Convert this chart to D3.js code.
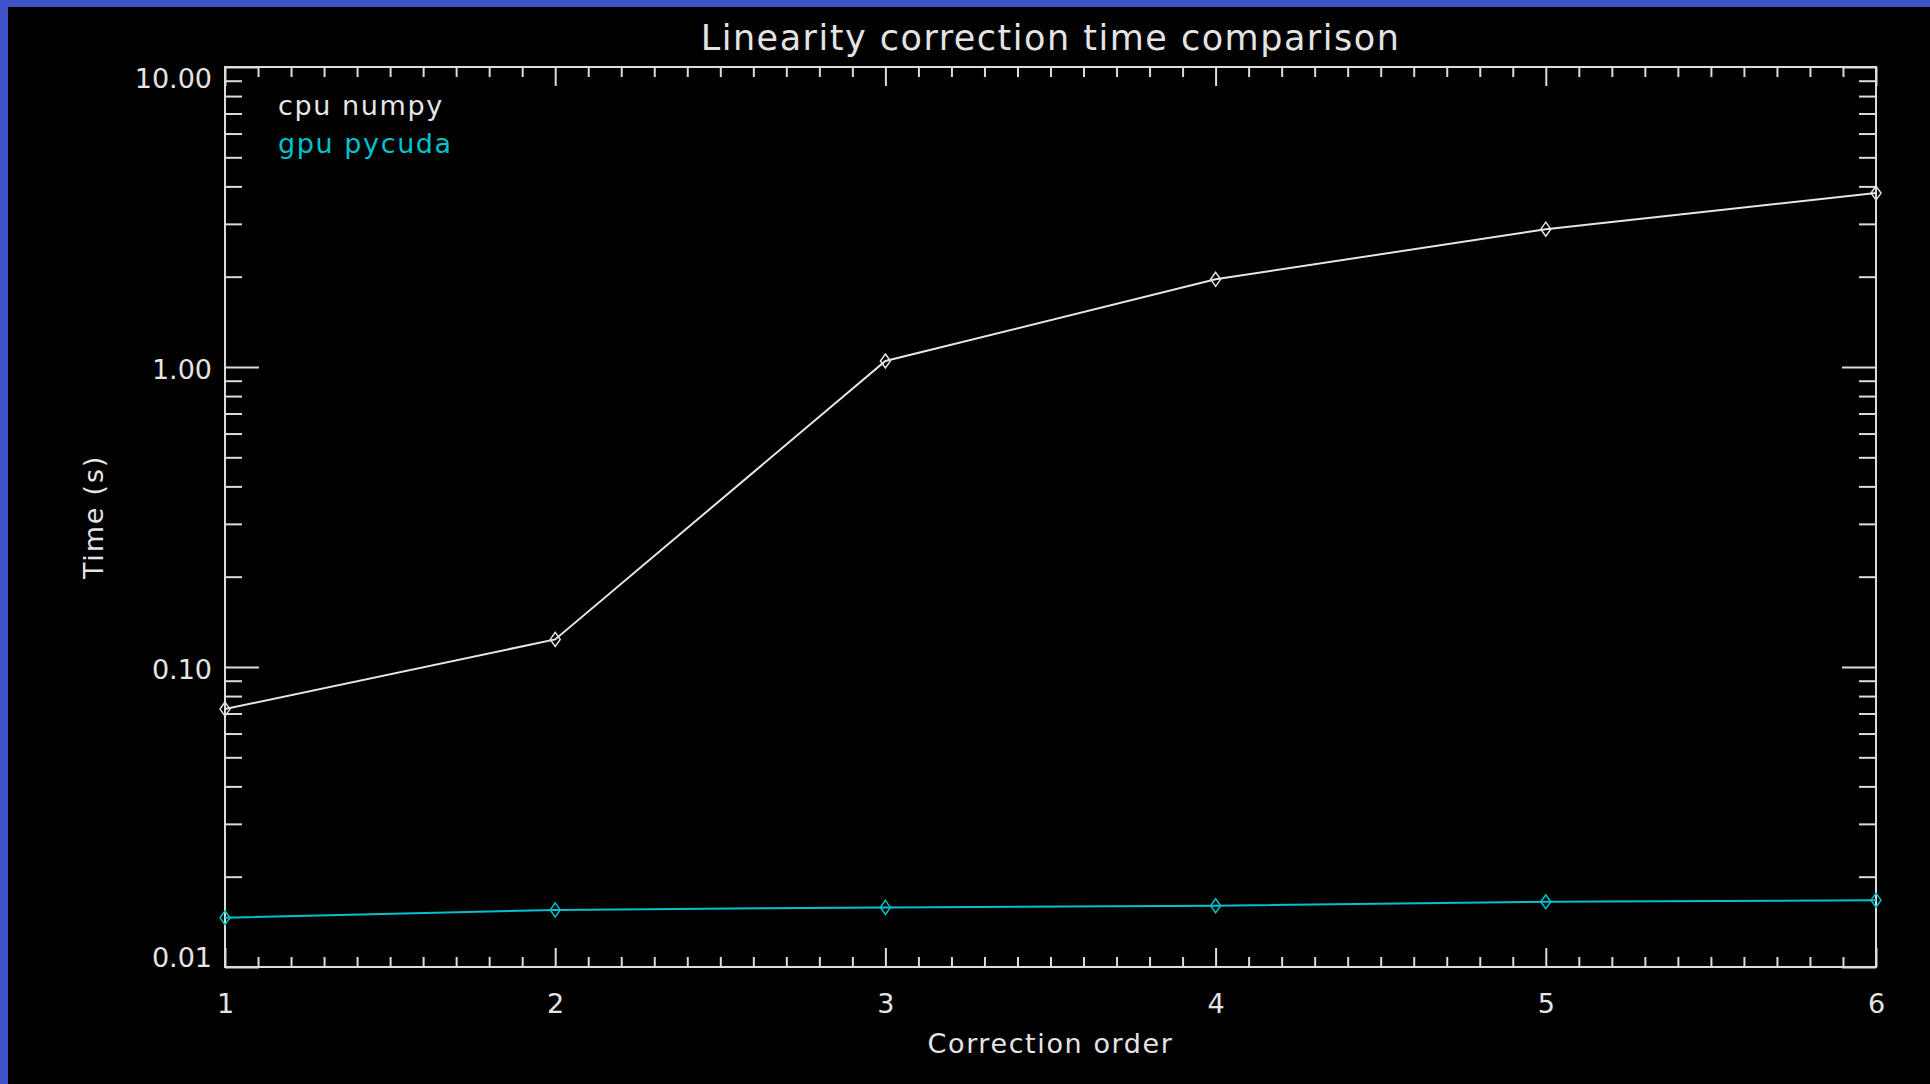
<!DOCTYPE html>
<html>
<head>
<meta charset="utf-8">
<script src="https://cdn.jsdelivr.net/npm/d3@7"></script>
<style>
  body { margin: 0; background: #3d52c6; overflow: hidden; }
  text { font-family: "DejaVu Sans", sans-serif; fill: #e4e4e4; }
</style>
</head>
<body>
<svg id="chart" width="1930" height="1084"></svg>
<script>
// values
var orders = [1, 2, 3, 4, 5, 6]
var cpuNumpy = [0.0724, 0.1236, 1.047, 1.96, 2.88, 3.80]
var gpuPycuda = [0.0146, 0.0155, 0.0158, 0.0160, 0.0165, 0.0167]

var xTickValues = [1, 2, 3, 4, 5, 6]
var xTickLabels = ["1", "2", "3", "4", "5", "6"]
var yTickValues = [0.01, 0.1, 1, 10]
var yTickLabels = ["0.01", "0.10", "1.00", "10.00"]

var seriesNames = ["cpu numpy", "gpu pycuda"]
var seriesColors = ["#e6e6e6", "#00c2cc"]

var margin = {top: 67, right: 54, bottom: 117, left: 225}
var width = 1930 - margin.left - margin.right
var height = 1084 - margin.top - margin.bottom
var axisColor = "#dcdcdc"

var svg = d3.select("#chart")

// black plotting window over the blue backdrop
svg.append("rect")
  .attr("x", 8).attr("y", 7)
  .attr("width", 1922).attr("height", 1077)
  .attr("fill", "#000")

var g = svg.append("g")
  .attr("transform", "translate(" + margin.left + "," + margin.top + ")")

var xScale = d3.scaleLinear().domain([1, 6]).range([0, width])
var yScale = d3.scaleLog().domain([0.01, 10]).range([height, 0])

// minor tick positions
var xMinor = []
for (var i = 10; i <= 60; i++) { if (i % 10 != 0) xMinor.push(i / 10) }
var yMinor = []
yTickValues.slice(0, 3).forEach(function (d) {
  for (var k = 2; k <= 9; k++) yMinor.push(d * k)
})

var xMajorLen = 19, xMinorLen = 10
var yMajorLen = 34, yMinorLen = 17

function styleAxis(sel) {
  sel.select(".domain").remove()
  sel.selectAll("line").attr("stroke", axisColor).attr("stroke-width", 2)
  sel.selectAll("text").attr("fill", "#e4e4e4").attr("font-size", 27)
}

// bottom axis, ticks pointing inward
g.append("g")
  .attr("transform", "translate(0," + height + ")")
  .call(d3.axisBottom(xScale).tickValues(xTickValues)
    .tickFormat(function (d, i) { return xTickLabels[i] })
    .tickSize(-xMajorLen).tickPadding(27))
  .call(styleAxis)

g.append("g")
  .attr("transform", "translate(0," + height + ")")
  .call(d3.axisBottom(xScale).tickValues(xMinor).tickFormat("").tickSize(-xMinorLen))
  .call(styleAxis)

// top axis
g.append("g")
  .call(d3.axisTop(xScale).tickValues(xTickValues).tickFormat("").tickSize(-xMajorLen))
  .call(styleAxis)
g.append("g")
  .call(d3.axisTop(xScale).tickValues(xMinor).tickFormat("").tickSize(-xMinorLen))
  .call(styleAxis)

// left axis
var yLeft = g.append("g")
  .call(d3.axisLeft(yScale).tickValues(yTickValues)
    .tickFormat(function (d, i) { return yTickLabels[i] })
    .tickSize(-yMajorLen).tickPadding(13))
  .call(styleAxis)

// keep the end labels inside the frame
yLeft.selectAll("text")
  .attr("dy", null)
  .attr("dominant-baseline", "central")
  .attr("y", function (d) {
    var ty = yScale(d)
    var c = Math.min(Math.max(ty + 2, 11), height - 10)
    return c - ty
  })

g.append("g")
  .call(d3.axisLeft(yScale).tickValues(yMinor).tickFormat("").tickSize(-yMinorLen))
  .call(styleAxis)

// right axis
g.append("g")
  .attr("transform", "translate(" + width + ",0)")
  .call(d3.axisRight(yScale).tickValues(yTickValues).tickFormat("").tickSize(-yMajorLen))
  .call(styleAxis)
g.append("g")
  .attr("transform", "translate(" + width + ",0)")
  .call(d3.axisRight(yScale).tickValues(yMinor).tickFormat("").tickSize(-yMinorLen))
  .call(styleAxis)

// frame
g.append("rect")
  .attr("width", width).attr("height", height)
  .attr("fill", "none")
  .attr("stroke", axisColor)
  .attr("stroke-width", 2)

// series
var line = d3.line()
  .x(function (d) { return xScale(d[0]) })
  .y(function (d) { return yScale(d[1]) })

var series = [cpuNumpy, gpuPycuda]
var diamond = "M0,-7L5,0L0,7L-5,0Z"

series.forEach(function (vals, s) {
  var pts = orders.map(function (o, i) { return [o, vals[i]] })
  g.append("path")
    .datum(pts)
    .attr("d", line)
    .attr("fill", "none")
    .attr("stroke", seriesColors[s])
    .attr("stroke-width", 2)

  g.selectAll(".pt" + s)
    .data(pts)
    .enter()
    .append("path")
    .attr("class", "pt" + s)
    .attr("d", diamond)
    .attr("transform", function (d) { return "translate(" + xScale(d[0]) + "," + yScale(d[1]) + ")" })
    .attr("fill", "none")
    .attr("stroke", seriesColors[s])
    .attr("stroke-width", 1.5)
})

// legend
seriesNames.forEach(function (name, s) {
  g.append("text")
    .attr("x", 53)
    .attr("y", 48 + s * 38)
    .attr("font-size", 27)
    .attr("letter-spacing", 1.6)
    .style("fill", seriesColors[s])
    .text(name)
})

// title and axis titles
svg.append("text")
  .attr("x", margin.left + width / 2)
  .attr("y", 50)
  .attr("text-anchor", "middle")
  .attr("font-size", 35)
  .attr("letter-spacing", 1.5)
  .text("Linearity correction time comparison")

svg.append("text")
  .attr("x", margin.left + width / 2)
  .attr("y", 1053)
  .attr("text-anchor", "middle")
  .attr("font-size", 27)
  .attr("letter-spacing", 1.6)
  .text("Correction order")

svg.append("text")
  .attr("transform", "translate(103," + (margin.top + height / 2) + ") rotate(-90)")
  .attr("text-anchor", "middle")
  .attr("font-size", 27)
  .attr("letter-spacing", 1.8)
  .text("Time (s)")
</script>
</body>
</html>
